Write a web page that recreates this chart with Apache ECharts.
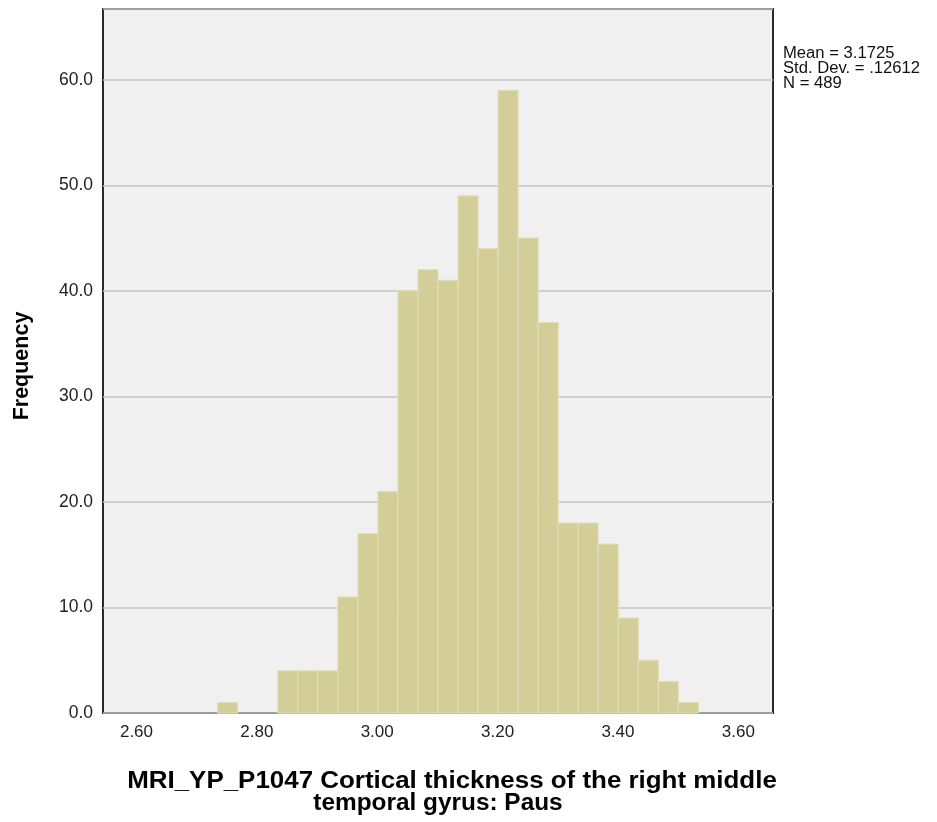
<!DOCTYPE html>
<html>
<head>
<meta charset="utf-8">
<script src="https://cdn.jsdelivr.net/npm/echarts@6/dist/echarts.min.js"></script>
<style>
html,body{margin:0;padding:0;background:#fff;}
#chart{width:937px;height:822px;}
</style>
</head>
<body>
<div id="chart"></div>
<script>
// Histogram data
const binEdges = [2.7349, 2.7682, 2.8015, 2.8347, 2.8680, 2.9013, 2.9346, 2.9679, 3.0011, 3.0344,
                  3.0677, 3.1010, 3.1343, 3.1675, 3.2008, 3.2341, 3.2674, 3.3007, 3.3339, 3.3672,
                  3.4005, 3.4338, 3.4671, 3.5003, 3.5336];
const frequency = [1, 0, 0, 4, 4, 4, 11, 17, 21, 40, 42, 41, 49, 44, 59, 45, 37, 18, 18, 16, 9, 5, 3, 1];
const xTicks = [2.6, 2.8, 3.0, 3.2, 3.4, 3.6];
const yTicks = [0, 10, 20, 30, 40, 50, 60];
const statsLines = ['Mean = 3.1725', 'Std. Dev. = .12612', 'N = 489'];
const xTitleLines = ['MRI_YP_P1047 Cortical thickness of the right middle', 'temporal gyrus: Paus'];
const yTitle = 'Frequency';

const barData = frequency.map((f, i) => [binEdges[i], binEdges[i + 1], f]);

const chart = echarts.init(document.getElementById('chart'), null, {renderer: 'canvas'});
const FONT = 'Liberation Sans, Arial, sans-serif';

chart.setOption({
  animation: false,
  backgroundColor: '#ffffff',
  grid: {
    left: 103, top: 9, right: 164, bottom: 109,
    show: true, backgroundColor: '#f0f0f0', borderColor: '#2a2a2a', borderWidth: 2
  },
  xAxis: {
    type: 'value',
    min: 2.5444, max: 3.6576,
    axisLine: {show: false},
    axisTick: {show: false},
    splitLine: {show: false},
    axisLabel: {
      customValues: xTicks,
      formatter: v => v.toFixed(2),
      fontFamily: FONT, fontSize: 17, color: '#222', margin: 11
    }
  },
  yAxis: {
    type: 'value',
    min: 0, max: 66.7, interval: 10,
    axisLine: {show: false},
    axisTick: {show: false},
    splitLine: {show: true, lineStyle: {color: '#c6c6c6', width: 1.5}},
    axisLabel: {
      formatter: v => (yTicks.indexOf(Math.round(v * 1000) / 1000) >= 0 ? v.toFixed(1) : ''),
      fontFamily: FONT, fontSize: 17.5, color: '#222', margin: 10
    },
    name: yTitle,
    nameLocation: 'middle',
    nameGap: 70,
    nameTextStyle: {fontFamily: FONT, fontSize: 21.5, fontWeight: 'bold', color: '#000', padding: [0, 0, 0, -10]}
  },
  series: [{
    type: 'custom',
    data: barData,
    encode: {x: [0, 1], y: 2},
    renderItem: function (params, api) {
      if (api.value(2) <= 0) return null;
      const p0 = api.coord([api.value(0), api.value(2)]);
      const p1 = api.coord([api.value(1), 0]);
      return {
        type: 'rect',
        shape: {x: p0[0], y: p0[1], width: p1[0] - p0[0], height: p1[1] - p0[1]},
        style: {fill: '#d3ce97', stroke: '#e2dfb8', lineWidth: 1}
      };
    }
  }],
  graphic: [
    {
      type: 'text', x: 783, y: 46, scaleX: 1.04, originX: 0, originY: 0,
      style: {text: statsLines.join('\n'), font: '16px ' + FONT, fill: '#111', lineHeight: 15}
    },
    {
      type: 'text', x: 452, y: 782, scaleX: 1.127,
      style: {text: xTitleLines[0], font: 'bold 23px ' + FONT, fill: '#000', align: 'center', verticalAlign: 'middle'}
    },
    {
      type: 'text', x: 438, y: 804, scaleX: 1.06,
      style: {text: xTitleLines[1], font: 'bold 23px ' + FONT, fill: '#000', align: 'center', verticalAlign: 'middle'}
    }
  ]
});
</script>
</body>
</html>
